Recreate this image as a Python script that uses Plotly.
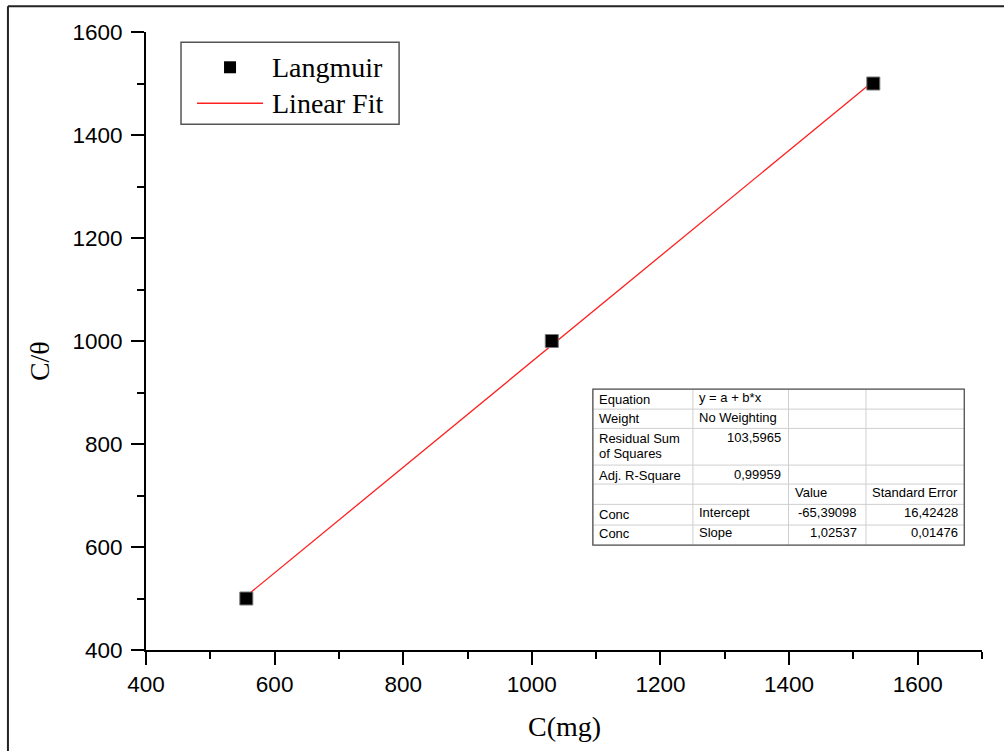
import plotly.graph_objects as go

# Langmuir isotherm data: concentration vs C/theta
conc = [556, 1031, 1531]
c_over_theta = [500, 1000, 1500]

# Linear fit results (y = a + b*x)
fit_intercept = -65.39098
fit_slope = 1.02537
fit_intercept_se = 16.42428
fit_slope_se = 0.01476
residual_ss = 103.5965
adj_r_square = 0.99959

x_tick_vals = [400, 600, 800, 1000, 1200, 1400, 1600]
y_tick_vals = [400, 600, 800, 1000, 1200, 1400, 1600]

W, H = 1004, 751
PL, PR, PT, PB = 146, 981.7, 31.7, 650  # plot area in pixels


def fx(p):
    return (p - PL) / (PR - PL)


def fy(p):
    return (PB - p) / (PB - PT)


def num(v, d):
    return f"{v:.{d}f}".replace(".", ",")


fit_x = [conc[0], conc[-1]]
fit_y = [fit_intercept + fit_slope * v for v in fit_x]

fig = go.Figure()
fig.add_trace(go.Scatter(
    x=fit_x, y=fit_y, mode="lines", name="Linear Fit",
    line=dict(color="#ff2020", width=1.3), showlegend=False,
))
fig.add_trace(go.Scatter(
    x=conc, y=c_over_theta, mode="markers", name="Langmuir",
    marker=dict(symbol="square", size=13, color="black",
                line=dict(color="#777777", width=1)),
    showlegend=False,
))

shapes = []
annotations = []

# outer frame of the figure
shapes.append(dict(type="line", xref="paper", yref="paper",
                   x0=fx(8), x1=fx(1010), y0=fy(6), y1=fy(6),
                   line=dict(color="#222222", width=2)))
shapes.append(dict(type="line", xref="paper", yref="paper",
                   x0=fx(8), x1=fx(8), y0=fy(6), y1=fy(760),
                   line=dict(color="#222222", width=2)))

# legend box
shapes.append(dict(type="rect", xref="paper", yref="paper",
                   x0=fx(181), x1=fx(399), y0=fy(42), y1=fy(124),
                   line=dict(color="#555555", width=1.5), fillcolor="white", layer="above"))
shapes.append(dict(type="rect", xref="paper", yref="paper",
                   x0=fx(224), x1=fx(236), y0=fy(61), y1=fy(73),
                   line=dict(color="black", width=0), fillcolor="black", layer="above"))
shapes.append(dict(type="line", xref="paper", yref="paper",
                   x0=fx(197), x1=fx(263), y0=fy(103), y1=fy(103),
                   line=dict(color="#ff2020", width=1.3), layer="above"))
for label, yc in [("Langmuir", 67), ("Linear Fit", 103)]:
    annotations.append(dict(text=label, xref="paper", yref="paper",
                            x=fx(270), y=fy(yc), xanchor="left", yanchor="middle",
                            showarrow=False,
                            font=dict(family="Liberation Serif, Times New Roman, serif",
                                      size=28, color="black")))

# fit results table
tl, tr, tt, tb = 592.7, 964, 389, 545
col_x = [692.7, 788.3, 865.7]
row_y = [409, 428.3, 465, 484, 504.3, 525]
shapes.append(dict(type="rect", xref="paper", yref="paper",
                   x0=fx(tl), x1=fx(tr), y0=fy(tt), y1=fy(tb),
                   line=dict(color="#cccccc", width=1), fillcolor="white", layer="above"))
for cx in col_x:
    shapes.append(dict(type="line", xref="paper", yref="paper",
                       x0=fx(cx), x1=fx(cx), y0=fy(tt), y1=fy(tb),
                       line=dict(color="#cfcfcf", width=1), layer="above"))
for ry in row_y:
    shapes.append(dict(type="line", xref="paper", yref="paper",
                       x0=fx(tl), x1=fx(tr), y0=fy(ry), y1=fy(ry),
                       line=dict(color="#cfcfcf", width=1), layer="above"))
shapes.append(dict(type="rect", xref="paper", yref="paper",
                   x0=fx(tl), x1=fx(tr), y0=fy(tt), y1=fy(tb),
                   line=dict(color="#555555", width=1.3), layer="above"))

cells = [
    ("Equation", 597, 399, "left"),
    ("y = a + b*x", 697, 397, "left"),
    ("Weight", 597, 418.5, "left"),
    ("No Weighting", 697, 417.5, "left"),
    ("Residual Sum", 597, 438.5, "left"),
    ("of Squares", 597, 453.5, "left"),
    (num(residual_ss, 4), 783, 437.5, "right"),
    ("Adj. R-Square", 597, 475, "left"),
    (num(adj_r_square, 5), 783, 474, "right"),
    ("Value", 793, 492.5, "left"),
    ("Standard Error", 870, 492.5, "left"),
    ("Conc", 597, 514, "left"),
    ("Intercept", 697, 512.5, "left"),
    (num(fit_intercept, 5), 859, 512.5, "right"),
    (num(fit_intercept_se, 5), 960, 512.5, "right"),
    ("Conc", 597, 533.5, "left"),
    ("Slope", 697, 532, "left"),
    (num(fit_slope, 5), 859, 532, "right"),
    (num(fit_slope_se, 5), 960, 532, "right"),
]
for text, x, y, anchor in cells:
    annotations.append(dict(text=text, xref="paper", yref="paper",
                            x=fx(x), y=fy(y), xanchor=anchor, yanchor="middle",
                            showarrow=False,
                            font=dict(family="Liberation Sans, Arial, sans-serif",
                                      size=13, color="black")))

# axis titles
annotations.append(dict(text="C(mg)", xref="paper", yref="paper",
                        x=fx(564), y=fy(727), xanchor="center", yanchor="middle",
                        showarrow=False,
                        font=dict(family="Liberation Serif, Times New Roman, serif",
                                  size=28, color="black")))
annotations.append(dict(text="C/θ", xref="paper", yref="paper",
                        x=fx(39), y=fy(361), xanchor="center", yanchor="middle",
                        textangle=-90, showarrow=False,
                        font=dict(family="Liberation Serif, Times New Roman, serif",
                                  size=28, color="black")))

axis_common = dict(
    showline=True, linecolor="black", linewidth=2,
    ticks="outside", ticklen=13, tickwidth=2, tickcolor="black",
    showgrid=False, zeroline=False,
    tickfont=dict(family="Liberation Sans, Arial, sans-serif", size=22.5, color="black"),
    minor=dict(ticks="outside", ticklen=7, tickwidth=2, tickcolor="black", dtick=100,
               showgrid=False),
)

fig.update_layout(
    width=W, height=H,
    margin=dict(l=PL, r=W - PR, t=PT, b=H - PB, pad=0),
    paper_bgcolor="white", plot_bgcolor="white",
    showlegend=False,
    xaxis=dict(range=[400, 1700], tickvals=x_tick_vals, **axis_common),
    yaxis=dict(range=[400, 1600], tickvals=y_tick_vals, ticklabelstandoff=4,
               **axis_common),
    shapes=shapes,
    annotations=annotations,
)

fig.write_html("out.html")
